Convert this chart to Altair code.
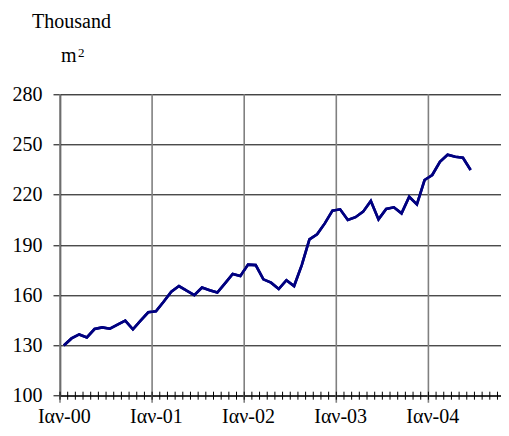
import altair as alt
import pandas as pd

# Monthly values, Jan-2000 .. Jun-2004 (thousand m2)
values = [130.0, 134.2, 136.6, 134.8, 139.8, 140.8, 140.0, 142.4, 144.8, 139.6,
          144.8, 149.8, 150.4, 156.1, 162.1, 165.5, 162.7, 160.1, 164.6, 163.0,
          161.6, 167.1, 172.7, 171.5, 178.3, 178.0, 169.5, 167.5, 163.7, 169.0,
          165.5, 178.0, 193.4, 196.4, 202.9, 210.5, 211.3, 204.9, 206.6, 209.9,
          216.3, 205.3, 211.5, 212.5, 208.9, 218.8, 214.3, 228.8, 231.8, 239.7,
          243.9, 242.7, 242.1, 234.8]
year_labels = ["Ιαν-00", "Ιαν-01", "Ιαν-02", "Ιαν-03", "Ιαν-04"]
year_starts = [0, 12, 24, 36, 48]
month_bounds = list(range(0, 58))
y_ticks = [100, 130, 160, 190, 220, 250, 280]

W = 441
H = 301.4
FONT = "Liberation Serif, Times New Roman, serif"

line_df = pd.DataFrame({"m": [i + 0.5 for i in range(len(values))], "v": values})
label_pos = [s + 0.5 for s in year_starts]
label_expr = "{" + ",".join(f"'{p}':'{t}'" for p, t in zip(label_pos, year_labels)) + "}[datum.value]"

x_scale = alt.Scale(domain=[0, W / 7.675], nice=False, zero=False)
y_scale = alt.Scale(domain=[100, 280], nice=False, zero=False)

x_axis = alt.Axis(values=label_pos, labelExpr=label_expr, ticks=False, tickSize=0,
                  grid=False, domainColor="black", domainWidth=1,
                  labelFont=FONT, labelFontSize=20, labelColor="black",
                  labelBaseline="alphabetic", labelPadding=27,
                  labelFlush=False, labelOverlap=False, title=None)
y_axis = alt.Axis(values=y_ticks, grid=True, gridColor="black", gridWidth=1,
                  tickSize=7, tickColor="black", domainColor="#222222", domainWidth=1.5,
                  labelFont=FONT, labelFontSize=20, labelColor="black",
                  labelPadding=11, title=None)

base_line = alt.Chart(line_df).mark_line(color="#000080", strokeWidth=2.6).encode(
    x=alt.X("m:Q", scale=x_scale, axis=x_axis),
    y=alt.Y("v:Q", scale=y_scale, axis=y_axis),
)

year_grid = alt.Chart(pd.DataFrame({"m": year_starts})).mark_rule(
    color="#808080", strokeWidth=1.6).encode(
    x=alt.X("m:Q", scale=x_scale),
    y=alt.value(0), y2=alt.value(H + 7),
)

month_ticks = alt.Chart(pd.DataFrame({"m": month_bounds})).mark_rule(
    color="black", strokeWidth=1).encode(
    x=alt.X("m:Q", scale=x_scale),
    y=alt.value(H - 4), y2=alt.value(H + 4),
)

t1 = alt.Chart(pd.DataFrame({"t": ["Thousand"]})).mark_text(
    font=FONT, fontSize=20, align="left", baseline="alphabetic", color="black").encode(
    text="t:N", x=alt.value(-28), y=alt.value(-66.3))
t2 = alt.Chart(pd.DataFrame({"t": ["m"]})).mark_text(
    font=FONT, fontSize=20, align="left", baseline="alphabetic", color="black").encode(
    text="t:N", x=alt.value(1), y=alt.value(-32.6))
t3 = alt.Chart(pd.DataFrame({"t": ["2"]})).mark_text(
    font=FONT, fontSize=13, align="left", baseline="alphabetic", color="black").encode(
    text="t:N", x=alt.value(18), y=alt.value(-37.8))

chart = alt.layer(base_line, year_grid, month_ticks, base_line, t1, t2, t3).properties(
    width=W, height=H,
    padding={"left": 52, "top": 86.3, "right": 0, "bottom": 32.3},
    autosize=alt.AutoSizeParams(type="none"),
).configure_view(stroke=None).configure(background="white")

chart.save("out.html", embed_options={"renderer": "svg", "actions": False})
